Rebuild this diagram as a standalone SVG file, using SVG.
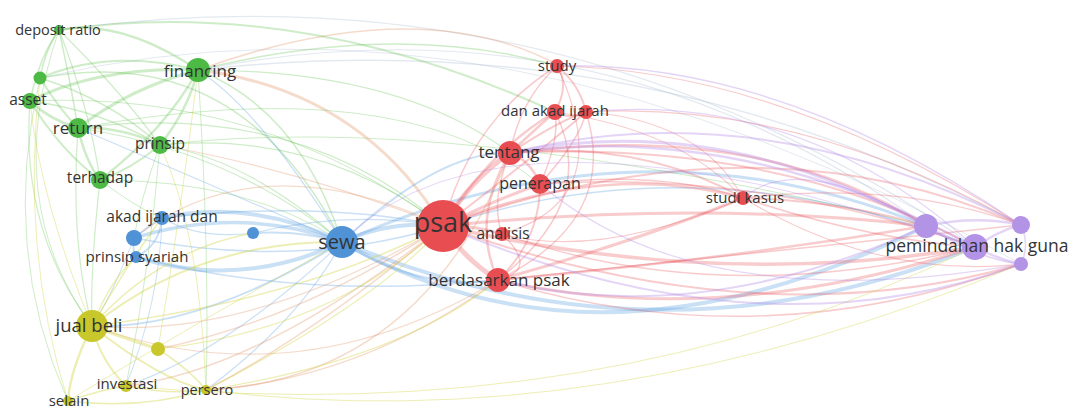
<svg xmlns="http://www.w3.org/2000/svg" width="1075" height="420" viewBox="0 0 1075 420">
<style>
.e{fill:none;stroke-linecap:round}
.g{stroke:#5cbf4a;stroke-opacity:.3}
.b{stroke:#5b9ee0;stroke-opacity:.32}
.r{stroke:#e8545a;stroke-opacity:.3}
.y{stroke:#cfd23a;stroke-opacity:.38}
.p{stroke:#b48ae6;stroke-opacity:.36}
.o{stroke:#e09060;stroke-opacity:.32}
.n{stroke:#9ab0c8;stroke-opacity:.28}
.ng{fill:#4cba44}
.nb{fill:#4f93d6}
.nr{fill:#e84d52}
.ny{fill:#c8c82c}
.np{fill:#b393e6}
text{font-family:"Open Sans","DejaVu Sans",sans-serif;fill:#333;text-anchor:middle}
</style>
<rect width="1075" height="420" fill="#fff"/>
<g id="connectors">
<path class="e n" stroke-width="1.2" d="M59 30 Q560 -40 975 247"/>
<path class="e n" stroke-width="1.2" d="M198 70 Q600 -10 926 226"/>
<path class="e n" stroke-width="1.5" d="M198 70 Q640 20 1021 225"/>
<path class="e n" stroke-width="1" d="M40 78 Q500 -30 1021 264"/>
<path class="e g" stroke-width="1.5" d="M198 70 Q400 20 557 66"/>
<path class="e o" stroke-width="1.5" d="M198 70 Q420 -10 560 66"/>
<path class="e g" stroke-width="2" d="M59 30 Q300 -5 555 112"/>
<path class="e g" stroke-width="2.5" d="M198 70 Q120 18 59 30"/>
<path class="e g" stroke-width="2" d="M198 70 Q110 48 40 78"/>
<path class="e g" stroke-width="3" d="M198 70 Q100 66 30 101"/>
<path class="e g" stroke-width="3" d="M198 70 Q130 88 78 128"/>
<path class="e g" stroke-width="2.5" d="M198 70 Q188 110 160 145"/>
<path class="e g" stroke-width="2.5" d="M198 70 Q165 130 100 180"/>
<path class="e g" stroke-width="1.5" d="M59 30 Q40 55 30 101"/>
<path class="e g" stroke-width="1.5" d="M59 30 Q70 80 78 128"/>
<path class="e g" stroke-width="1.2" d="M59 30 Q90 110 100 180"/>
<path class="e g" stroke-width="1.2" d="M59 30 Q120 90 160 145"/>
<path class="e g" stroke-width="1.5" d="M59 30 Q45 50 40 78"/>
<path class="e g" stroke-width="3" d="M30 101 Q50 120 78 128"/>
<path class="e g" stroke-width="2" d="M30 101 Q60 150 100 180"/>
<path class="e g" stroke-width="1.5" d="M30 101 Q100 110 160 145"/>
<path class="e g" stroke-width="2" d="M40 78 Q60 110 78 128"/>
<path class="e g" stroke-width="1.5" d="M40 78 Q110 100 160 145"/>
<path class="e g" stroke-width="2.5" d="M78 128 Q120 126 160 145"/>
<path class="e g" stroke-width="2.5" d="M78 128 Q85 160 100 180"/>
<path class="e g" stroke-width="2" d="M160 145 Q130 170 100 180"/>
<path class="e g" stroke-width="1.5" d="M40 78 Q240 40 342 242"/>
<path class="e g" stroke-width="1.5" d="M198 70 Q300 110 342 242"/>
<path class="e o" stroke-width="3" d="M198 70 Q360 90 443 226"/>
<path class="e g" stroke-width="1.2" d="M198 70 Q400 70 510 153"/>
<path class="e g" stroke-width="1.2" d="M78 128 Q300 100 443 226"/>
<path class="e g" stroke-width="1.2" d="M160 145 Q320 130 443 226"/>
<path class="e g" stroke-width="1.2" d="M160 145 Q250 160 342 242"/>
<path class="e g" stroke-width="1.2" d="M78 128 Q230 150 342 242"/>
<path class="e g" stroke-width="1" d="M100 180 Q250 180 342 242"/>
<path class="e g" stroke-width="1" d="M30 101 Q260 90 443 226"/>
<path class="e g" stroke-width="1" d="M160 145 Q450 110 926 226"/>
<path class="e g" stroke-width="1" d="M78 128 Q400 70 540 184"/>
<path class="e g" stroke-width="1.2" d="M30 101 Q20 230 92 326"/>
<path class="e g" stroke-width="1.2" d="M78 128 Q70 240 92 326"/>
<path class="e g" stroke-width="1.2" d="M100 180 Q90 270 92 326"/>
<path class="e g" stroke-width="1" d="M40 78 Q0 250 68 401"/>
<path class="e g" stroke-width="1" d="M198 70 Q210 260 206 390"/>
<path class="e g" stroke-width="1" d="M160 145 Q150 270 126 386"/>
<path class="e g" stroke-width="1" d="M59 30 Q0 200 92 326"/>
<path class="e g" stroke-width="1" d="M100 180 Q140 210 162 218"/>
<path class="e g" stroke-width="1" d="M160 145 Q140 200 134 238"/>
<path class="e b" stroke-width="4" d="M342 242 Q250 198 162 218"/>
<path class="e b" stroke-width="3.5" d="M342 242 Q240 205 134 238"/>
<path class="e b" stroke-width="4" d="M342 242 Q240 290 136 257"/>
<path class="e b" stroke-width="2" d="M342 242 Q300 230 253 233"/>
<path class="e b" stroke-width="4" d="M342 242 Q390 220 443 226"/>
<path class="e b" stroke-width="2.5" d="M342 242 Q420 292 498 280"/>
<path class="e b" stroke-width="4" d="M342 242 Q600 390 926 226"/>
<path class="e b" stroke-width="4" d="M342 242 Q660 375 975 247"/>
<path class="e b" stroke-width="3" d="M342 242 Q640 110 926 226"/>
<path class="e b" stroke-width="2" d="M342 242 Q440 150 510 153"/>
<path class="e b" stroke-width="2" d="M342 242 Q200 330 92 326"/>
<path class="e b" stroke-width="1.2" d="M342 242 Q260 110 198 70"/>
<path class="e b" stroke-width="1.2" d="M342 242 Q200 180 78 128"/>
<path class="e b" stroke-width="1.2" d="M342 242 Q230 350 126 386"/>
<path class="e b" stroke-width="1.2" d="M342 242 Q300 320 206 390"/>
<path class="e b" stroke-width="2" d="M162 218 Q150 225 134 238"/>
<path class="e b" stroke-width="2" d="M162 218 Q160 245 136 257"/>
<path class="e b" stroke-width="2" d="M134 238 Q132 250 136 257"/>
<path class="e b" stroke-width="1.5" d="M162 218 Q320 200 443 226"/>
<path class="e b" stroke-width="1.5" d="M134 238 Q300 270 443 226"/>
<path class="e b" stroke-width="1.5" d="M136 257 Q300 300 498 280"/>
<path class="e b" stroke-width="1.2" d="M253 233 Q350 210 443 226"/>
<path class="e b" stroke-width="1.2" d="M162 218 Q200 240 253 233"/>
<path class="e b" stroke-width="1" d="M134 238 Q110 300 92 326"/>
<path class="e b" stroke-width="1" d="M162 218 Q160 300 126 386"/>
<path class="e b" stroke-width="1.5" d="M443 226 Q700 140 975 247"/>
<path class="e r" stroke-width="5" d="M443 226 Q470 180 510 153"/>
<path class="e r" stroke-width="3" d="M443 226 Q495 200 540 184"/>
<path class="e r" stroke-width="3" d="M443 226 Q475 225 502 234"/>
<path class="e r" stroke-width="5" d="M443 226 Q465 260 498 280"/>
<path class="e r" stroke-width="2.5" d="M443 226 Q490 150 555 112"/>
<path class="e r" stroke-width="2" d="M443 226 Q530 160 586 112"/>
<path class="e r" stroke-width="1.5" d="M443 226 Q470 120 557 66"/>
<path class="e r" stroke-width="2.5" d="M443 226 Q600 160 743 198"/>
<path class="e r" stroke-width="3" d="M443 226 Q700 200 926 226"/>
<path class="e r" stroke-width="3.5" d="M443 226 Q720 290 975 247"/>
<path class="e r" stroke-width="2" d="M443 226 Q760 110 1021 225"/>
<path class="e r" stroke-width="2" d="M443 226 Q760 340 1021 264"/>
<path class="e r" stroke-width="2.5" d="M510 153 Q530 160 540 184"/>
<path class="e r" stroke-width="2.5" d="M510 153 Q540 125 555 112"/>
<path class="e r" stroke-width="2" d="M510 153 Q560 120 586 112"/>
<path class="e r" stroke-width="1.5" d="M510 153 Q520 100 557 66"/>
<path class="e r" stroke-width="2.5" d="M510 153 Q470 220 498 280"/>
<path class="e r" stroke-width="1.5" d="M510 153 Q490 200 502 234"/>
<path class="e r" stroke-width="2" d="M510 153 Q640 140 743 198"/>
<path class="e r" stroke-width="2.5" d="M510 153 Q760 120 926 226"/>
<path class="e r" stroke-width="2" d="M510 153 Q780 140 975 247"/>
<path class="e r" stroke-width="2" d="M540 184 Q540 240 498 280"/>
<path class="e r" stroke-width="1.5" d="M540 184 Q560 140 555 112"/>
<path class="e r" stroke-width="1.5" d="M540 184 Q580 140 586 112"/>
<path class="e r" stroke-width="1.5" d="M540 184 Q660 170 743 198"/>
<path class="e r" stroke-width="1.5" d="M540 184 Q760 170 975 247"/>
<path class="e r" stroke-width="2" d="M555 112 Q570 85 557 66"/>
<path class="e r" stroke-width="2" d="M586 112 Q580 85 557 66"/>
<path class="e r" stroke-width="2" d="M555 112 Q570 120 586 112"/>
<path class="e r" stroke-width="1.5" d="M555 112 Q600 200 498 280"/>
<path class="e r" stroke-width="1.5" d="M586 112 Q620 220 498 280"/>
<path class="e r" stroke-width="1.2" d="M557 66 Q620 200 502 234"/>
<path class="e r" stroke-width="1.2" d="M586 112 Q700 120 743 198"/>
<path class="e r" stroke-width="1.2" d="M557 66 Q780 70 1021 225"/>
<path class="e r" stroke-width="1.2" d="M586 112 Q800 100 1021 225"/>
<path class="e r" stroke-width="1.5" d="M502 234 Q540 270 498 280"/>
<path class="e r" stroke-width="3" d="M498 280 Q640 240 743 198"/>
<path class="e r" stroke-width="3" d="M498 280 Q720 330 975 247"/>
<path class="e r" stroke-width="2.5" d="M498 280 Q720 260 926 226"/>
<path class="e r" stroke-width="1.5" d="M498 280 Q760 360 1021 264"/>
<path class="e r" stroke-width="1.5" d="M498 280 Q780 250 1021 225"/>
<path class="e r" stroke-width="1.5" d="M502 234 Q720 310 975 247"/>
<path class="e r" stroke-width="2" d="M743 198 Q840 200 926 226"/>
<path class="e r" stroke-width="1.5" d="M743 198 Q870 240 975 247"/>
<path class="e r" stroke-width="1.2" d="M743 198 Q900 180 1021 225"/>
<path class="e r" stroke-width="1.2" d="M743 198 Q880 280 1021 264"/>
<path class="e r" stroke-width="1.2" d="M743 198 Q600 260 502 234"/>
<path class="e r" stroke-width="1.2" d="M743 198 Q680 130 555 112"/>
<path class="e o" stroke-width="1.5" d="M443 226 Q320 330 206 390"/>
<path class="e o" stroke-width="1.5" d="M498 280 Q360 380 206 390"/>
<path class="e o" stroke-width="1.5" d="M510 153 Q420 380 206 390"/>
<path class="e o" stroke-width="1.5" d="M443 226 Q300 320 158 349"/>
<path class="e o" stroke-width="1.5" d="M443 226 Q260 370 126 386"/>
<path class="e o" stroke-width="1.2" d="M443 226 Q250 340 92 326"/>
<path class="e o" stroke-width="1.2" d="M498 280 Q300 400 92 326"/>
<path class="e o" stroke-width="1.2" d="M443 226 Q260 140 134 238"/>
<path class="e o" stroke-width="1.2" d="M443 226 Q300 170 160 145"/>
<path class="e y" stroke-width="3" d="M92 326 Q130 340 158 349"/>
<path class="e y" stroke-width="2" d="M92 326 Q100 360 126 386"/>
<path class="e y" stroke-width="2.5" d="M92 326 Q70 370 68 401"/>
<path class="e y" stroke-width="2" d="M92 326 Q160 380 206 390"/>
<path class="e y" stroke-width="1.5" d="M158 349 Q190 370 206 390"/>
<path class="e y" stroke-width="1.5" d="M126 386 Q170 395 206 390"/>
<path class="e y" stroke-width="1.5" d="M68 401 Q140 410 206 390"/>
<path class="e y" stroke-width="1.5" d="M68 401 Q100 390 126 386"/>
<path class="e y" stroke-width="2" d="M92 326 Q200 240 342 242"/>
<path class="e y" stroke-width="1.5" d="M92 326 Q110 280 136 257"/>
<path class="e y" stroke-width="1.5" d="M92 326 Q130 260 162 218"/>
<path class="e y" stroke-width="1.5" d="M92 326 Q160 250 253 233"/>
<path class="e y" stroke-width="1.5" d="M92 326 Q300 300 443 226"/>
<path class="e y" stroke-width="1.2" d="M158 349 Q330 330 443 226"/>
<path class="e y" stroke-width="1.2" d="M206 390 Q400 360 498 280"/>
<path class="e y" stroke-width="1.2" d="M206 390 Q380 300 443 226"/>
<path class="e y" stroke-width="1" d="M206 390 Q600 440 1021 264"/>
<path class="e y" stroke-width="1" d="M126 386 Q600 430 975 247"/>
<path class="e y" stroke-width="1" d="M92 326 Q40 200 30 101"/>
<path class="e y" stroke-width="1" d="M68 401 Q20 250 40 78"/>
<path class="e y" stroke-width="1" d="M206 390 Q200 230 160 145"/>
<path class="e y" stroke-width="1" d="M158 349 Q180 220 198 70"/>
<path class="e y" stroke-width="1" d="M68 401 Q200 320 342 242"/>
<path class="e p" stroke-width="3" d="M926 226 Q950 240 975 247"/>
<path class="e p" stroke-width="2.5" d="M926 226 Q975 215 1021 225"/>
<path class="e p" stroke-width="2.5" d="M975 247 Q1000 230 1021 225"/>
<path class="e p" stroke-width="2.5" d="M975 247 Q1000 260 1021 264"/>
<path class="e p" stroke-width="1.5" d="M926 226 Q980 260 1021 264"/>
<path class="e p" stroke-width="1.5" d="M1021 225 Q1030 245 1021 264"/>
<path class="e p" stroke-width="3" d="M926 226 Q720 110 510 153"/>
<path class="e p" stroke-width="2.5" d="M975 247 Q740 120 510 153"/>
<path class="e p" stroke-width="2" d="M1021 225 Q760 90 510 153"/>
<path class="e p" stroke-width="2" d="M926 226 Q700 330 498 280"/>
<path class="e p" stroke-width="2" d="M1021 264 Q760 360 443 226"/>
<path class="e p" stroke-width="1.5" d="M1021 225 Q780 60 557 66"/>
<path class="e p" stroke-width="1.2" d="M975 247 Q800 90 586 112"/>
<path class="e p" stroke-width="1.2" d="M926 226 Q800 150 743 198"/>
<path class="e p" stroke-width="1.2" d="M1021 264 Q700 320 540 184"/>
<path class="e p" stroke-width="1" d="M975 247 Q500 80 342 242"/>
</g>
<g id="node-deposit-ratio"><circle class="ng" cx="59" cy="30" r="5"/><text x="58" y="35" font-size="14.5">deposit ratio</text></g>
<g id="node-green-small"><circle class="ng" cx="40" cy="78" r="6.5"/></g>
<g id="node-asset"><circle class="ng" cx="30" cy="101" r="8"/><text x="28" y="105" font-size="15.5">asset</text></g>
<g id="node-financing"><circle class="ng" cx="198" cy="70" r="12"/><text x="200" y="77" font-size="17">financing</text></g>
<g id="node-return"><circle class="ng" cx="78" cy="128" r="10"/><text x="78" y="134" font-size="17">return</text></g>
<g id="node-prinsip"><circle class="ng" cx="160" cy="145" r="9"/><text x="160" y="149" font-size="15.5">prinsip</text></g>
<g id="node-terhadap"><circle class="ng" cx="100" cy="180" r="9"/><text x="100" y="183" font-size="15.5">terhadap</text></g>
<g id="node-akad-ijarah-dan"><circle class="nb" cx="162" cy="218" r="7"/><text x="162" y="222" font-size="15.5">akad ijarah dan</text></g>
<g id="node-blue-small"><circle class="nb" cx="134" cy="238" r="8"/></g>
<g id="node-prinsip-syariah"><circle class="nb" cx="136" cy="257" r="6"/><text x="137" y="262" font-size="15">prinsip syariah</text></g>
<g id="node-blue-small-2"><circle class="nb" cx="253" cy="233" r="6"/></g>
<g id="node-sewa"><circle class="nb" cx="342" cy="242" r="16"/><text x="342" y="249" font-size="20">sewa</text></g>
<g id="node-jual-beli"><circle class="ny" cx="92" cy="326" r="16"/><text x="89" y="332" font-size="18.5">jual beli</text></g>
<g id="node-yellow-small"><circle class="ny" cx="158" cy="349" r="7"/></g>
<g id="node-investasi"><circle class="ny" cx="126" cy="386" r="6"/><text x="127" y="389" font-size="15">investasi</text></g>
<g id="node-persero"><circle class="ny" cx="206" cy="390" r="5"/><text x="207" y="395" font-size="14.5">persero</text></g>
<g id="node-selain"><circle class="ny" cx="68" cy="401" r="5"/><text x="69" y="406" font-size="15">selain</text></g>
<g id="node-psak"><circle class="nr" cx="443" cy="226" r="26"/><text x="443" y="232" font-size="27">psak</text></g>
<g id="node-analisis"><circle class="nr" cx="502" cy="234" r="7"/><text x="503" y="239" font-size="15.5">analisis</text></g>
<g id="node-berdasarkan-psak"><circle class="nr" cx="498" cy="280" r="12"/><text x="499" y="286" font-size="17">berdasarkan psak</text></g>
<g id="node-tentang"><circle class="nr" cx="510" cy="153" r="12"/><text x="509" y="158" font-size="17">tentang</text></g>
<g id="node-penerapan"><circle class="nr" cx="540" cy="184" r="10"/><text x="540" y="189" font-size="16">penerapan</text></g>
<g id="node-dan-akad-ijarah"><circle class="nr" cx="555" cy="112" r="8"/><circle class="nr" cx="586" cy="112" r="7"/><text x="555" y="116" font-size="15">dan akad ijarah</text></g>
<g id="node-study"><circle class="nr" cx="557" cy="66" r="7"/><text x="557" y="71" font-size="15">study</text></g>
<g id="node-studi-kasus"><circle class="nr" cx="743" cy="198" r="7"/><text x="745" y="203" font-size="15">studi kasus</text></g>
<g id="node-purple-1"><circle class="np" cx="926" cy="226" r="12"/></g>
<g id="node-purple-2"><circle class="np" cx="1021" cy="225" r="9"/></g>
<g id="node-purple-3"><circle class="np" cx="1021" cy="264" r="7"/></g>
<g id="node-pemindahan-hak-guna"><circle class="np" cx="975" cy="247" r="13"/><text x="977" y="252" font-size="17.5">pemindahan hak guna</text></g>
</svg>
